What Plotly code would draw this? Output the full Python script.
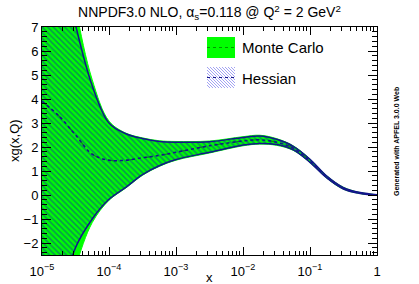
import plotly.graph_objects as go

# x grid (log-spaced values)
x = [1e-5, 1.78e-5, 3.16e-5, 5.62e-5, 1e-4, 1.78e-4, 3.16e-4, 5.62e-4, 1e-3,
     3.16e-3, 1e-2, 1.78e-2, 3.16e-2, 5.62e-2, 0.1, 0.178, 0.316, 0.562, 1.0]

# Monte Carlo band
mc_central = [3.9, 3.3, 2.5, 1.7, 1.45, 1.45, 1.55, 1.65, 1.78,
              2.05, 2.25, 2.3, 2.2, 1.95, 1.42, 0.74, 0.28, 0.08, 0.0]
mc_upper = [15.0, 11.5, 7.8, 4.8, 3.08, 2.58, 2.38, 2.26, 2.23,
            2.25, 2.43, 2.49, 2.35, 2.05, 1.5, 0.8, 0.32, 0.1, 0.01]
mc_lower = [-9.0, -5.5, -3.0, -1.15, -0.22, 0.29, 0.82, 1.19, 1.45,
            1.75, 2.05, 2.12, 2.07, 1.86, 1.35, 0.7, 0.24, 0.06, -0.01]

# Hessian band
h_central = [3.9, 3.3, 2.5, 1.7, 1.45, 1.45, 1.55, 1.65, 1.78,
             2.05, 2.25, 2.3, 2.2, 1.95, 1.42, 0.74, 0.28, 0.08, 0.0]
h_upper = [14.0, 10.5, 7.1, 4.55, 3.0, 2.55, 2.35, 2.23, 2.2,
           2.22, 2.4, 2.46, 2.32, 2.03, 1.49, 0.79, 0.31, 0.1, 0.01]
h_lower = [-8.0, -4.6, -2.2, -1.0, -0.18, 0.32, 0.85, 1.22, 1.48,
           1.78, 2.08, 2.15, 2.1, 1.88, 1.36, 0.71, 0.25, 0.06, -0.01]

xtick_vals = [1e-5, 1e-4, 1e-3, 1e-2, 1e-1, 1]
xtick_text = ["10<sup>\u22125</sup>", "10<sup>\u22124</sup>", "10<sup>\u22123</sup>",
              "10<sup>\u22122</sup>", "10<sup>\u22121</sup>", "1"]
xminor_vals = [m * 10.0 ** e for e in range(-5, 0) for m in range(2, 10)]
ytick_vals = [-2, -1, 0, 1, 2, 3, 4, 5, 6, 7]

GREEN = "#00ff00"
BLUE = "#14148c"
FONT = "Liberation Sans, Arial, sans-serif"

fig = go.Figure()
fig.add_trace(go.Scatter(x=x, y=mc_lower, mode="lines", line=dict(color=GREEN, width=1, shape="spline"),
                         showlegend=False, hoverinfo="skip"))
fig.add_trace(go.Scatter(x=x, y=mc_upper, mode="lines", line=dict(color=GREEN, width=1, shape="spline"),
                         fill="tonexty", fillcolor=GREEN, showlegend=False, hoverinfo="skip"))
fig.add_trace(go.Scatter(x=x, y=mc_central, mode="lines",
                         line=dict(color="#009900", width=1.2, dash="dash", shape="spline"),
                         showlegend=False))
fig.add_trace(go.Scatter(x=x, y=h_lower, mode="lines", line=dict(color=BLUE, width=1.5, shape="spline"),
                         showlegend=False, hoverinfo="skip"))
fig.add_trace(go.Scatter(x=x, y=h_upper, mode="lines", line=dict(color=BLUE, width=1.5, shape="spline"),
                         fill="tonexty", fillcolor="rgba(0,0,0,0)",
                         fillpattern=dict(shape="\\", fgcolor="#10309e", bgcolor="rgba(0,0,0,0)",
                                          size=4, solidity=0.45),
                         showlegend=False, hoverinfo="skip"))
fig.add_trace(go.Scatter(x=x, y=h_central, mode="lines",
                         line=dict(color=BLUE, width=1.5, dash="dot", shape="spline"),
                         showlegend=False))

# plot area in pixels: left 42, right 377, top 27, bottom 255
L, R, T, B = 42, 377, 27, 255
def px(xp):
    return (xp - L) / (R - L)
def py(yp):
    return (B - yp) / (B - T)

shapes = []
# Monte Carlo legend box
shapes.append(dict(type="rect", xref="paper", yref="paper", x0=px(207), x1=px(235), y0=py(58), y1=py(37),
                   fillcolor=GREEN, line=dict(width=0)))
shapes.append(dict(type="line", xref="paper", yref="paper", x0=px(207), x1=px(235), y0=py(47.5), y1=py(47.5),
                   line=dict(color="#009900", width=1, dash="dot")))
# Hessian legend box: hatch
bx0, bx1, by0, by1 = 207, 235, 67, 88
step = 3
c = bx0 - (by1 - by0)
while c < bx1:
    xa, ya = c, by0
    xb, yb = c + (by1 - by0), by1
    if xa < bx0:
        ya = by0 + (bx0 - xa); xa = bx0
    if xb > bx1:
        yb = by1 - (xb - bx1); xb = bx1
    if xb > xa:
        shapes.append(dict(type="line", xref="paper", yref="paper", x0=px(xa), x1=px(xb), y0=py(ya), y1=py(yb),
                           line=dict(color="#8c8cf0", width=0.8)))
    c += step
shapes.append(dict(type="line", xref="paper", yref="paper", x0=px(207), x1=px(235), y0=py(77.5), y1=py(77.5),
                   line=dict(color=BLUE, width=1.2, dash="dot")))

annotations = [
    dict(text="Monte Carlo", x=px(240), y=py(48), xref="paper", yref="paper", xanchor="left",
         yanchor="middle", showarrow=False, font=dict(size=15, color="black", family=FONT)),
    dict(text="Hessian", x=px(240), y=py(78), xref="paper", yref="paper", xanchor="left",
         yanchor="middle", showarrow=False, font=dict(size=15, color="black", family=FONT)),
    dict(text="xg(x,Q)", x=px(14), y=py(141), xref="paper", yref="paper", xanchor="center",
         yanchor="middle", textangle=-90, showarrow=False, font=dict(size=13, color="black", family=FONT)),
    dict(text="x", x=px(209), y=py(277.5), xref="paper", yref="paper", xanchor="center",
         yanchor="middle", showarrow=False, font=dict(size=13, color="black", family=FONT)),
    dict(text="<b>Generated with APFEL 3.0.0 Web</b>", x=px(396), y=py(142), xref="paper", yref="paper",
         xanchor="center", yanchor="middle", textangle=-90, showarrow=False,
         font=dict(size=7, color="black", family=FONT)),
]

fig.update_layout(
    width=419, height=284,
    margin=dict(l=L, r=419 - R, t=T, b=284 - B, autoexpand=False),
    paper_bgcolor="white", plot_bgcolor="white",
    title=dict(text="NNPDF3.0 NLO, \u03b1<sub>s</sub>=0.118 @ Q<sup>2</sup> = 2 GeV<sup>2</sup>",
               x=0.5, xanchor="center", y=1 - 12.5 / 284, yanchor="middle",
               font=dict(size=14, color="black", family=FONT)),
    shapes=shapes, annotations=annotations,
    showlegend=False,
    font=dict(family=FONT, color="black"),
)
fig.update_xaxes(type="log", range=[-5, 0], tickvals=xtick_vals, ticktext=xtick_text, automargin=False,
                 ticks="inside", ticklen=8, tickcolor="black", tickwidth=1, ticklabelstandoff=4,
                 minor=dict(tickvals=xminor_vals, ticks="inside", ticklen=4, tickcolor="black", showgrid=False),
                 showline=True, linecolor="black", linewidth=1, mirror="ticks",
                 showgrid=False, zeroline=False, tickfont=dict(size=13, family=FONT, color="black"))
fig.update_yaxes(range=[-2.5, 7], tickvals=ytick_vals, automargin=False,
                 ticks="inside", ticklen=9, tickcolor="black", tickwidth=1,
                 minor=dict(dtick=0.2, ticks="inside", ticklen=5, tickcolor="black", showgrid=False),
                 showline=True, linecolor="black", linewidth=1, mirror="ticks",
                 showgrid=False, zeroline=False, tickfont=dict(size=13, family=FONT, color="black"))

fig.write_html("out.html", config={"displayModeBar": False},
               post_script="document.body.style.margin='0';document.body.style.overflow='hidden';")
